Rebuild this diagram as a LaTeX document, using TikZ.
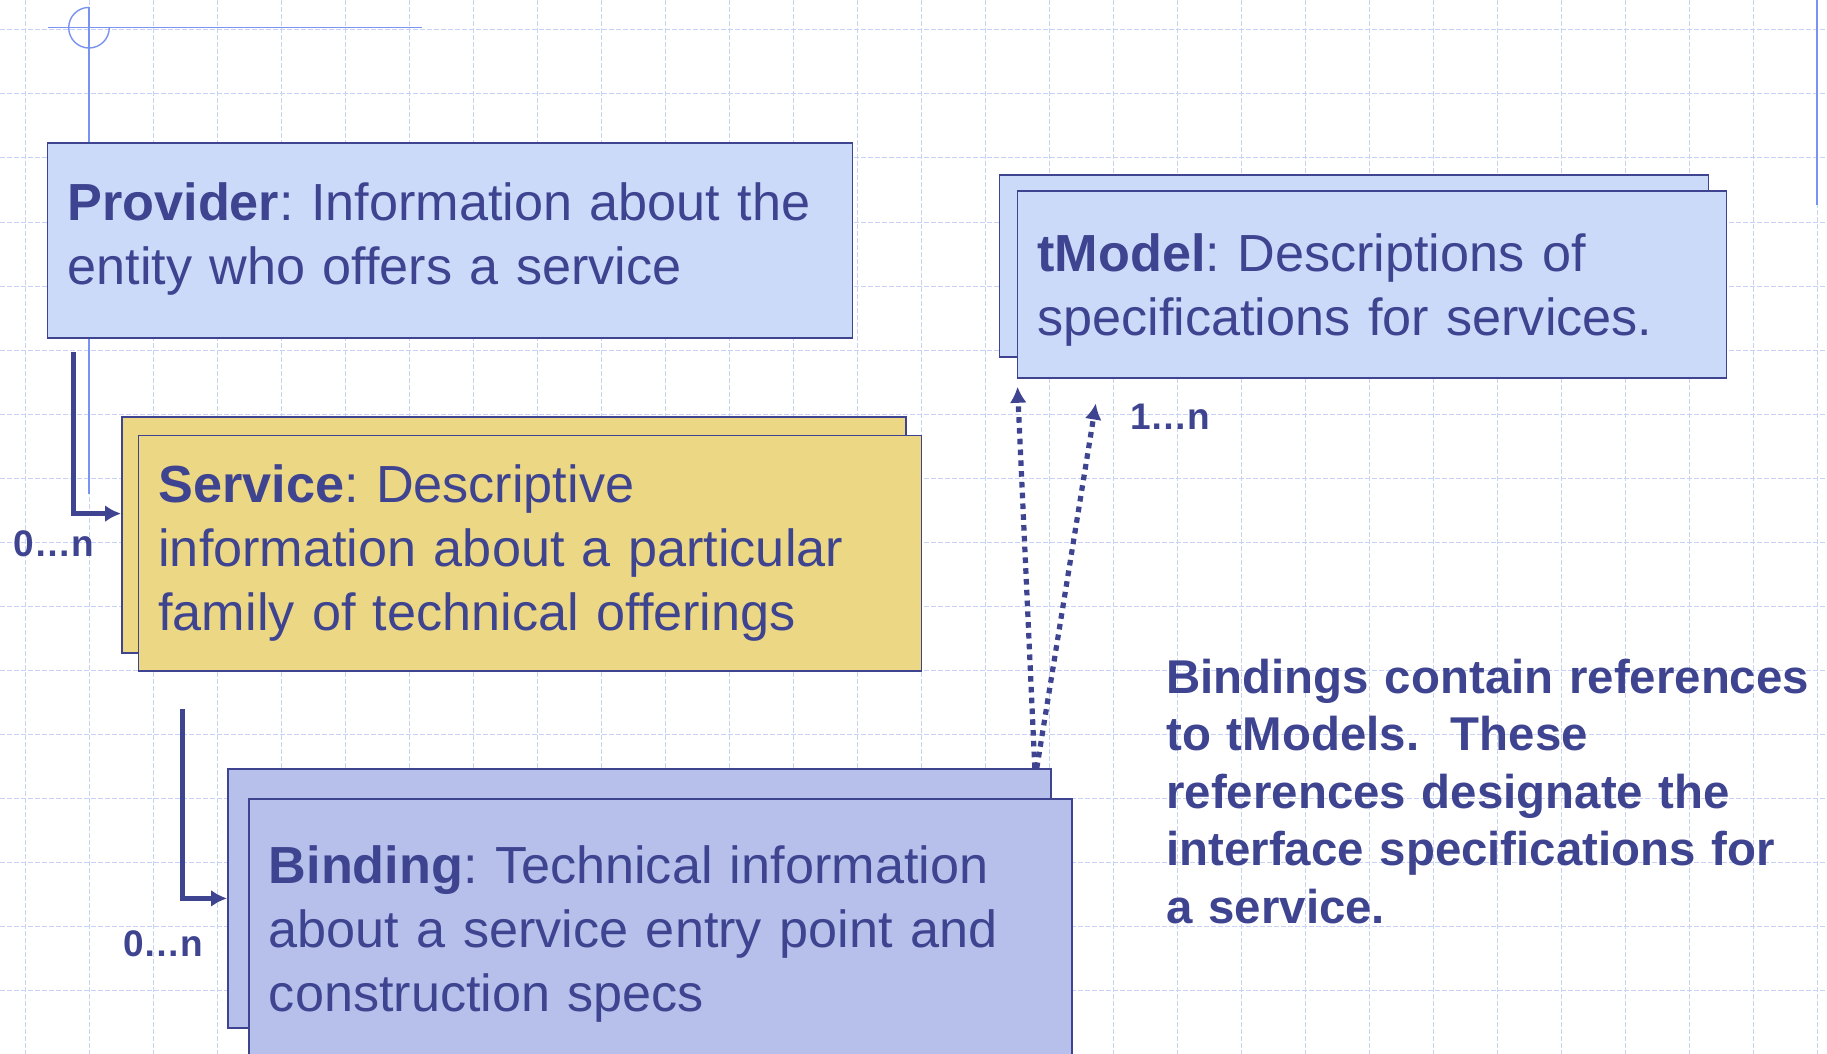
\documentclass[tikz,border=0pt]{standalone}
\usepackage{fontspec}
\setmainfont{Liberation Sans}
\usepackage{xcolor}
\usetikzlibrary{arrows.meta,positioning,calc}
\definecolor{navy}{HTML}{3E4490}
\definecolor{pale}{HTML}{CCDAFA}
\definecolor{gold}{HTML}{EBD784}
\definecolor{lilac}{HTML}{B7C0EA}
\definecolor{guideblue}{HTML}{7A93F0}
\definecolor{gridblue}{HTML}{C8D2F5}
\frenchspacing
\tikzset{
    -Latex,auto,semithick,
    box/.style ={rectangle, draw=navy, line width=0.9pt, inner xsep=10pt, inner ysep=0pt, align=left, text=navy, font=\fontsize{26.1}{32}\selectfont},
    sheet/.style ={rectangle, draw=navy, line width=0.9pt, inner sep=0pt, anchor=north west},
    note/.style ={inner sep=0pt, align=left, text=navy, text width=340pt, font=\bfseries\fontsize{23.7}{28.75}\selectfont},
    card/.style ={inner sep=0pt, text=navy, anchor=base west, font=\bfseries\fontsize{18.5}{22}\selectfont},
    flow/.style={-{Latex[length=8pt,width=8.5pt]}, draw=navy, line width=2.4pt},
    ref/.style={flow, line width=2.6pt, dash pattern=on 2.8pt off 2.6pt},
    guide/.style={-, draw=guideblue, line width=0.7pt},
    gridline/.style={-, draw=gridblue, line width=0.5pt, dash pattern=on 2.5pt off 1pt}
}

\begin{document}
\begin{tikzpicture}[x=0.5pt,y=-0.5pt]
    \fill[white] (0,0) rectangle (1827,1054);
    \useasboundingbox (0,0) rectangle (1827,1054);

    % background grid
    \foreach \x in {25,89,...,1817} \draw[gridline] (\x,0) -- (\x,1054);
    \foreach \y in {30,94,...,1054} \draw[gridline] (0,\y) -- (1827,\y);

    % slide guides
    \draw[guide] (48,27.7) -- (422,27.7);
    \draw[guide] (89,7) -- (89,494);
    \draw[guide] (89,7.4) arc[start angle=270, end angle=0, radius=20.3];
    \draw[guide, line width=1pt] (1816.7,0) -- (1816.7,205);

    \node[box, fill=pale, anchor=north west, text width=382.5pt, text height=39pt, text depth=58.35pt] (1) at (46.6,142)
        {\textbf{Provider}: Information about the\\entity who offers a service};

    \node[sheet, fill=gold, minimum width=392pt, minimum height=118pt] (2b) at (121,416) {};
    \node[box, fill=gold, below right=9.25pt and 8.25pt of 2b.north west, text width=371.5pt, text height=33.6pt, text depth=84.15pt] (2)
        {\textbf{Service}: Descriptive\\information about a particular\\family of technical offerings};

    \node[sheet, fill=lilac, minimum width=411.5pt, minimum height=129.5pt] (3b) at (227,768) {};
    \node[box, fill=lilac, below right=15pt and 10.5pt of 3b.north west, text width=391.5pt, text height=42.35pt, text depth=87.65pt] (3)
        {\textbf{Binding}: Technical information\\about a service entry point and\\construction specs};

    \node[sheet, fill=pale, minimum width=354.5pt, minimum height=91pt] (4b) at (998.5,174) {};
    \node[box, fill=pale, below right=8pt and 9pt of 4b.north west, text width=334.5pt, text height=40.5pt, text depth=52.85pt] (4)
        {\textbf{tModel}: Descriptions of\\specifications for services.};

    \draw[flow] ([shift={(13.35pt,-6.65pt)}]1.south west) |- ([yshift=10.65pt]2b.west);
    \draw[flow] ([shift={(22.4pt,-18.35pt)}]2.south west) |- (3b.west);
    \draw[ref] ([xshift=-8.5pt]3b.north east) -- ([shift={(0.5pt,-4.15pt)}]4.south west);
    \draw[ref] ([xshift=-7.5pt]3b.north east) -- ([shift={(39.65pt,-12.5pt)}]4.south west);

    \node[card] (m1) at (13.3,556) {0…n};
    \node[card] (m2) at (122.7,956.7) {0…n};
    \node[card] (m3) at (1130,429.3) {1…n};

    \node[note, anchor=base west] (5) at (1166,693.3)
        {Bindings contain references\\to tModels.\ \ These\\references designate the\\interface specifications for\\a service.};
\end{tikzpicture}
\end{document}
